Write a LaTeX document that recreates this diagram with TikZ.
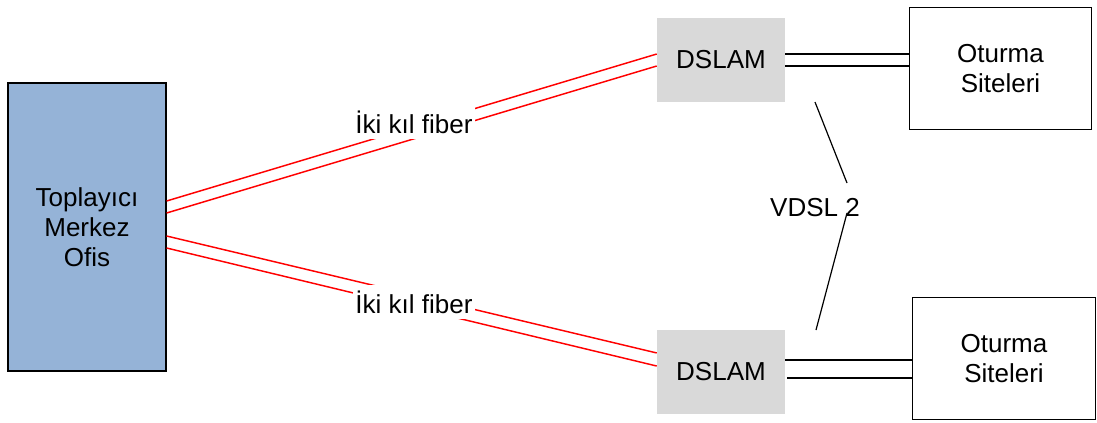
\documentclass[tikz,border=0pt]{standalone}
\usepackage{fontspec}
\setmainfont{Liberation Sans}
\definecolor{hubblue}{RGB}{149,179,215}
\definecolor{dslamgray}{RGB}{217,217,217}
\begin{document}
\begin{tikzpicture}[x=0.75pt,y=-0.75pt,
  txt/.style={font=\fontsize{19.5}{22.5}\selectfont, align=center},
  hub/.style={txt, draw=black, line width=0.9pt, fill=hubblue,
    minimum width=118.5pt, minimum height=216pt, inner sep=0pt},
  dslam/.style={txt, fill=dslamgray, minimum width=96pt, minimum height=63pt, inner sep=0pt},
  site/.style={txt, draw=black, line width=0.9pt, fill=white,
    minimum width=137pt, minimum height=92pt, inner sep=0pt},
  fiber/.style={draw=red, line width=1.1pt},
  copper/.style={draw=black, line width=1.1pt},
  lbl/.style={txt, fill=white, inner xsep=2pt, inner ysep=4pt, anchor=base}]
\useasboundingbox (0,0) rectangle (1097,422);

% central office and the two street cabinets
\node[hub] (hub) at (87,227) {Toplayıcı\\Merkez\\Ofis};
\node[dslam] (d1) at (721,60) {DSLAM};
\node[dslam] (d2) at (721,371.5) {DSLAM};

% residential buildings
\node[site] (s1) at (1000.5,68.5) {Oturma\\Siteleri};
\node[site] (s2) at (1004,358.5) {Oturma\\Siteleri};

% fibre pairs from the central office
\draw[fiber] ([yshift=19.5pt]hub.east) -- ([yshift=4.5pt]d1.west);
\draw[fiber] ([yshift=10.5pt]hub.east) -- ([yshift=-4.5pt]d1.west);
\draw[fiber] ([yshift=-6.75pt]hub.east) -- ([yshift=13.9pt]d2.west);
\draw[fiber] ([yshift=-15.75pt]hub.east) -- ([yshift=4.1pt]d2.west);
\node[lbl] (f1) at (414,133) {İki kıl fiber};
\node[lbl] (f2) at (414,313) {İki kıl fiber};

% copper pairs to the buildings
\draw[copper] ([yshift=4.5pt]d1.east) -- ([yshift=4.5pt]d1.east -| s1.west);
\draw[copper] ([yshift=-4.5pt]d1.east) -- ([yshift=-4.5pt]d1.east -| s1.west);
\draw[copper] ([yshift=8.6pt]d2.east) -- ([yshift=8.6pt]d2.east -| s2.west);
\draw[copper] ([xshift=1.5pt,yshift=-4.9pt]d2.east) -- ([yshift=-4.9pt]d2.east -| s2.west);

% VDSL 2 link between the cabinets
\node[txt, anchor=base] (v) at (815,216) {VDSL 2};
\coordinate (va) at (815,102);
\coordinate (vb) at (847,183);
\coordinate (vc) at (847,213);
\coordinate (vd) at (816,330);
\draw[line width=0.9pt] (va) -- (vb);
\draw[line width=0.9pt] (vc) -- (vd);
\end{tikzpicture}
\end{document}
